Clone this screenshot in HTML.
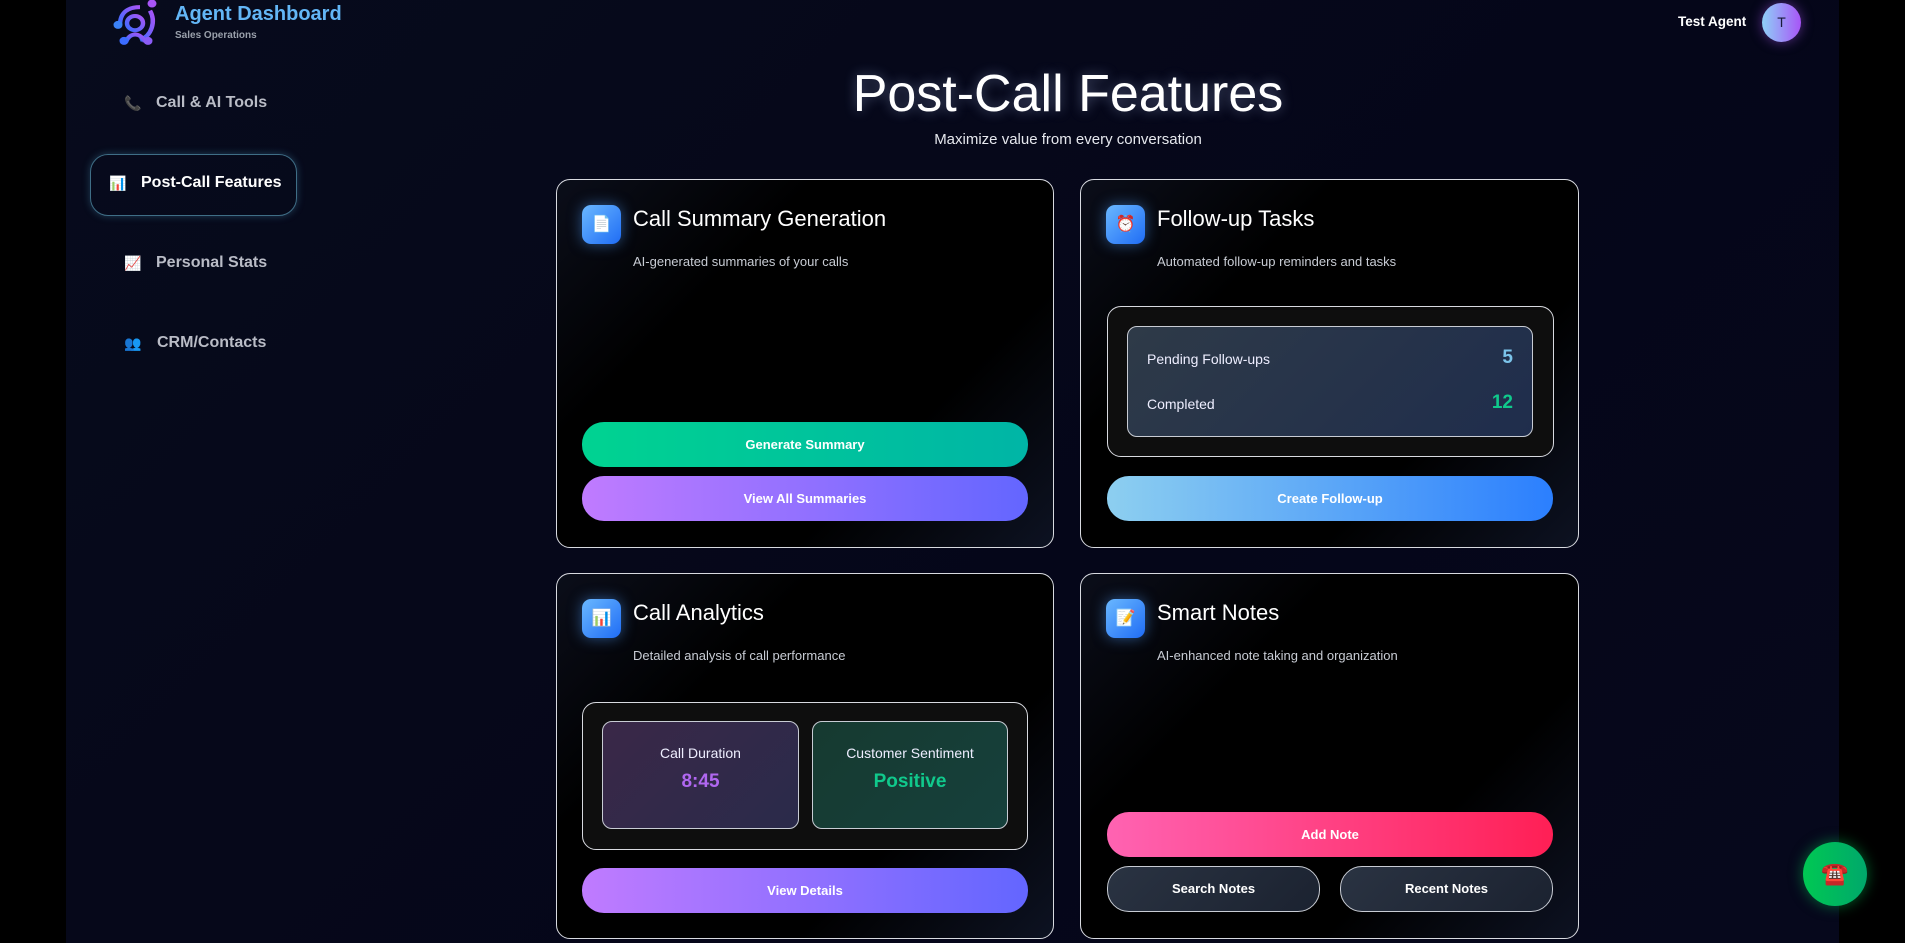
<!DOCTYPE html>
<html><head><meta charset="utf-8"><style>
*{box-sizing:border-box;margin:0;padding:0}
body{width:1905px;height:943px;background:#000;font-family:"Liberation Sans",sans-serif;position:relative;overflow:hidden;color:#fff}
.main{position:absolute;left:66px;top:0;width:1773px;height:943px;background:linear-gradient(135deg,#070b1c,#050619 60%,#06081c)}
.abs{position:absolute}
.nav{position:absolute;left:156px;font-size:16px;font-weight:bold;color:#b9bcc6;line-height:20px}
.ni{position:absolute;left:122px;font-size:14px;line-height:20px;width:20px}
.card{position:absolute;border:1.5px solid #d8dae0;border-radius:14px;background:linear-gradient(135deg,#0b0e1a,#000 30%,#000 70%,#0d1222)}
.ic{position:absolute;left:25px;top:25px;width:39px;height:39px;border-radius:9px;background:linear-gradient(135deg,#6ab8ff,#1f6cf5);box-shadow:0 0 14px rgba(80,160,255,.5);font-size:16px;text-align:center;line-height:39px}
.ct{position:absolute;left:76px;top:25px;font-size:22px;line-height:28px;color:#fff}
.cd{position:absolute;left:76px;top:74px;font-size:13px;color:#c8ccd4}
.btn{position:absolute;left:25px;width:446px;height:45px;border-radius:22px;font-size:13px;font-weight:bold;color:#fff;text-align:center;line-height:45px}
.g{background:linear-gradient(90deg,#00d391,#00b5a6)}
.p{background:linear-gradient(90deg,#c07bff,#6366ff)}
</style></head><body>
<div class="main"></div>
<svg class="abs" style="left:112px;top:0" width="46" height="48" viewBox="0 0 46 54" preserveAspectRatio="none">
<defs><linearGradient id="lg" x1="0" y1="1" x2="1" y2="0"><stop offset="0" stop-color="#3b6cff"/><stop offset="1" stop-color="#a855f7"/></linearGradient></defs>
<circle cx="23" cy="26" r="8" fill="none" stroke="url(#lg)" stroke-width="4.5"/>
<path d="M8 28 C8 14 16 8 28 8" fill="none" stroke="url(#lg)" stroke-width="4.5"/>
<path d="M38 12 C44 24 40 40 28 45" fill="none" stroke="url(#lg)" stroke-width="4.5"/>
<path d="M14 47 C18 36 28 36 33 47" fill="none" stroke="url(#lg)" stroke-width="4.5"/>
<circle cx="6" cy="28" r="4.5" fill="#3b82f6"/><circle cx="40" cy="4" r="4.5" fill="#a855f7"/><circle cx="12" cy="46" r="4.5" fill="#3b6cff"/><circle cx="36" cy="46" r="4.5" fill="#8b5cf6"/>
</svg>
<div class="abs" style="left:175px;top:3px;font-size:20px;font-weight:bold;color:#63b6f6">Agent Dashboard</div>
<div class="abs" style="left:175px;top:30px;font-size:10px;font-weight:bold;color:#9aa0ab">Sales Operations</div>
<div class="ni" style="left:124px;top:93px;color:#c2185b">📞</div>
<div class="nav" style="top:93px">Call &amp; AI Tools</div>
<div class="abs" style="left:90px;top:154px;width:207px;height:62px;border:1.5px solid #3f6e86;border-radius:18px;box-shadow:0 0 8px rgba(80,160,200,.35)"></div>
<div class="ni" style="left:109px;top:173px">📊</div>
<div class="nav" style="left:141px;top:173px;color:#fff">Post-Call Features</div>
<div class="ni" style="left:124px;top:253px">📈</div>
<div class="nav" style="top:253px">Personal Stats</div>
<div class="ni" style="left:124px;top:333px">👥</div>
<div class="nav" style="left:157px;top:333px">CRM/Contacts</div>
<div class="abs" style="left:1678px;top:14px;font-size:13.5px;font-weight:bold;color:#fff">Test Agent</div>
<div class="abs" style="left:1762px;top:3px;width:39px;height:39px;border-radius:50%;background:linear-gradient(90deg,#8fd0f7,#a855f7);box-shadow:0 0 12px rgba(168,85,247,.5);color:#1a1a3a;font-size:14px;text-align:center;line-height:39px">T</div>
<div class="abs" style="left:568px;top:64px;width:1000px;text-align:center;font-size:52px;color:#fff;text-shadow:0 0 12px rgba(180,200,255,.4)">Post-Call Features</div>
<div class="abs" style="left:568px;top:131px;width:1000px;text-align:center;font-size:15px;color:#e6e8ee">Maximize value from every conversation</div>

<div class="card" style="left:556px;top:179px;width:498px;height:369px">
<div class="ic">📄</div><div class="ct">Call Summary Generation</div><div class="cd">AI-generated summaries of your calls</div>
<div class="btn g" style="top:242px">Generate Summary</div>
<div class="btn p" style="top:296px">View All Summaries</div></div>

<div class="card" style="left:1080px;top:179px;width:499px;height:369px">
<div class="ic">⏰</div><div class="ct">Follow-up Tasks</div><div class="cd">Automated follow-up reminders and tasks</div>
<div class="abs" style="left:26px;top:126px;width:447px;height:151px;border:1.5px solid #d8dae0;border-radius:14px;background:#0e0e0e"></div>
<div class="abs" style="left:46px;top:146px;width:406px;height:111px;border:1.5px solid #c8ccd4;border-radius:10px;background:linear-gradient(135deg,#2e3a48,#1f2d4c)">
<div class="abs" style="left:19px;top:24px;font-size:14px;color:#eef">Pending Follow-ups</div>
<div class="abs" style="right:19px;top:20px;font-size:19px;font-weight:bold;color:#7cc4ea">5</div>
<div class="abs" style="left:19px;top:69px;font-size:14px;color:#eef">Completed</div>
<div class="abs" style="right:19px;top:65px;font-size:19px;font-weight:bold;color:#10c98c">12</div></div>
<div class="btn" style="left:26px;top:296px;background:linear-gradient(90deg,#8dcff0,#2b7ffe)">Create Follow-up</div></div>

<div class="card" style="left:556px;top:573px;width:498px;height:366px">
<div class="ic">📊</div><div class="ct">Call Analytics</div><div class="cd">Detailed analysis of call performance</div>
<div class="abs" style="left:25px;top:128px;width:446px;height:148px;border:1.5px solid #d8dae0;border-radius:14px;background:#0e0e0e"></div>
<div class="abs" style="left:45px;top:147px;width:197px;height:108px;border:1.5px solid #c8ccd4;border-radius:10px;background:linear-gradient(135deg,#3a2848,#2a2a4a);text-align:center">
<div style="margin-top:23px;font-size:14px;color:#eef">Call Duration</div><div style="margin-top:10px;font-size:19px;font-weight:bold;color:#b067f0">8:45</div></div>
<div class="abs" style="left:255px;top:147px;width:196px;height:108px;border:1.5px solid #c8ccd4;border-radius:10px;background:linear-gradient(135deg,#163a30,#16403c);text-align:center">
<div style="margin-top:23px;font-size:14px;color:#eef">Customer Sentiment</div><div style="margin-top:10px;font-size:19px;font-weight:bold;color:#10c98c">Positive</div></div>
<div class="btn p" style="top:294px">View Details</div></div>

<div class="card" style="left:1080px;top:573px;width:499px;height:366px">
<div class="ic">📝</div><div class="ct">Smart Notes</div><div class="cd">AI-enhanced note taking and organization</div>
<div class="btn" style="left:26px;top:238px;background:linear-gradient(90deg,#ff63b2,#ff1f55)">Add Note</div>
<div class="abs" style="left:26px;top:292px;width:213px;height:46px;border:1.5px solid #c8ccd4;border-radius:22px;background:linear-gradient(135deg,#2a3342,#1b2230);font-size:13px;font-weight:bold;text-align:center;line-height:43px">Search Notes</div>
<div class="abs" style="left:259px;top:292px;width:213px;height:46px;border:1.5px solid #c8ccd4;border-radius:22px;background:linear-gradient(135deg,#2a3342,#1b2230);font-size:13px;font-weight:bold;text-align:center;line-height:43px">Recent Notes</div></div>

<div class="abs" style="left:1803px;top:842px;width:64px;height:64px;border-radius:50%;background:linear-gradient(90deg,#00c853,#00a86b);box-shadow:0 0 14px rgba(0,200,83,.5);text-align:center;line-height:64px;font-size:22px">☎️</div>
</body></html>
